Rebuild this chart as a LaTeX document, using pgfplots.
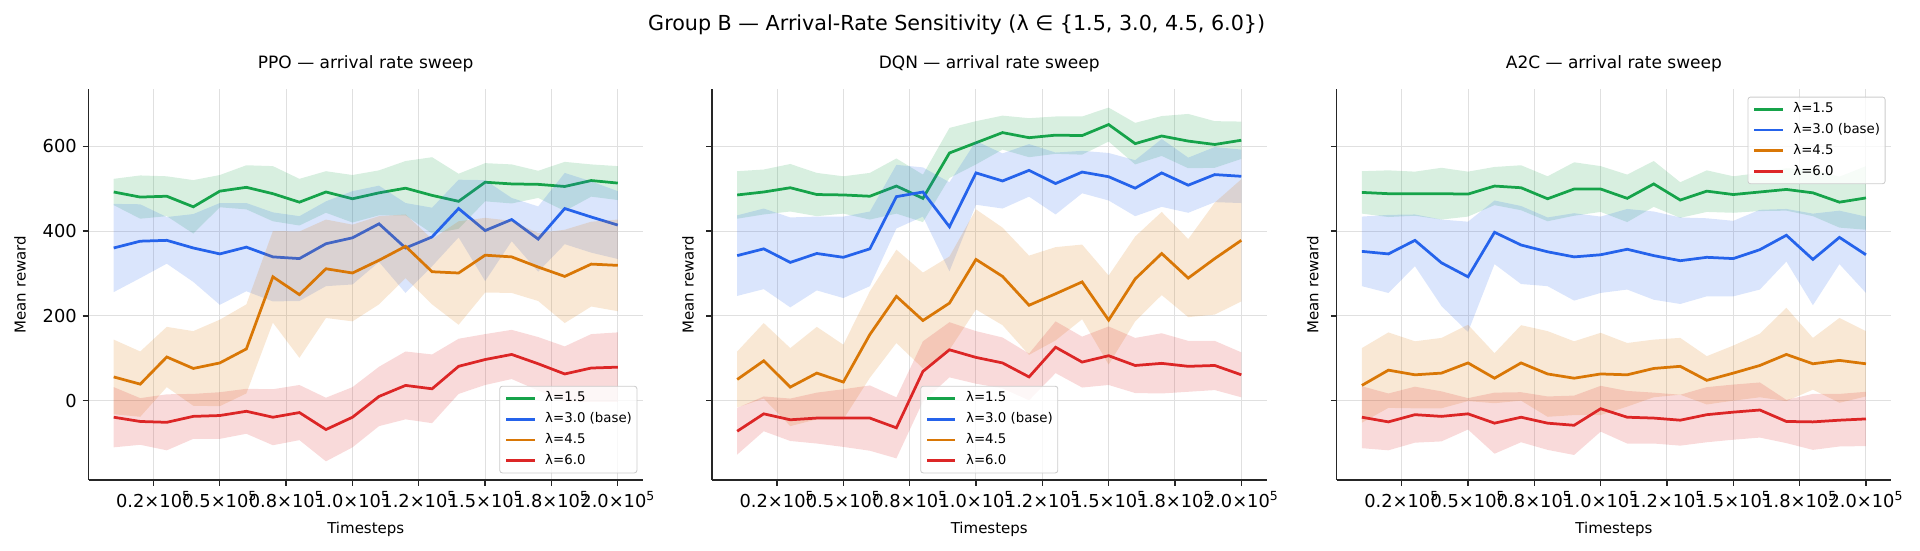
\documentclass[border=0pt]{standalone}
\usepackage{fontspec}
\setmainfont{DejaVu Sans}
\usepackage{pgfplots}
\pgfplotsset{compat=1.18}
\usepackage{pgfplotstable}

\definecolor{cg}{HTML}{16A34A}
\definecolor{cb}{HTML}{2563EB}
\definecolor{co}{HTML}{D97706}
\definecolor{cr}{HTML}{DC2626}

% mean reward per arrival rate: g = 1.5, b = 3.0, o = 4.5, r = 6.0
\pgfplotstableread{
t g b o r
10000 492 360 56 -39
20000 480 376 39 -49
30000 482 378 103 -51
40000 457 360 76 -37
50000 494 346 89 -35
60000 503 362 122 -25
70000 488 339 292 -39
80000 468 335 250 -28
90000 492 370 311 -68
100000 476 384 301 -39
110000 490 417 331 10
120000 501 360 364 36
130000 484 386 304 28
140000 470 453 301 81
150000 515 401 343 97
160000 511 427 339 109
170000 510 381 315 87
180000 505 453 293 63
190000 519 433 322 77
200000 513 414 319 79
}\ppo
% band outlines: upper edge forwards, then lower edge backwards
\pgfplotstableread{
t g b o r
10000 523 464 144 32
20000 531 463 116 6
30000 529 433 174 15
40000 520 440 164 16
50000 532 466 191 20
60000 555 466 227 28
70000 553 444 400 27
80000 523 435 399 37
90000 541 470 427 7
100000 532 494 415 32
110000 543 507 435 80
120000 565 466 439 116
130000 574 455 381 109
140000 535 521 423 146
150000 560 520 431 157
160000 557 478 424 167
170000 542 458 395 150
180000 563 537 403 128
190000 557 517 422 157
200000 553 494 427 161
200000 473 334 211 -3
190000 481 349 222 -3
180000 447 369 183 -2
170000 478 304 235 24
160000 465 376 254 51
150000 470 282 255 37
140000 405 385 179 16
130000 394 317 227 -53
120000 437 254 289 -44
110000 437 327 227 -60
100000 420 274 187 -110
90000 443 270 195 -143
80000 413 235 101 -93
70000 423 234 184 -105
60000 451 258 17 -78
50000 456 226 -13 -90
40000 394 280 -12 -90
30000 435 323 32 -117
20000 429 289 -38 -104
10000 461 256 -32 -110
}\ppoband

\pgfplotstableread{
t g b o r
10000 485 342 50 -72
20000 492 358 94 -31
30000 502 326 32 -45
40000 486 347 65 -41
50000 485 338 44 -41
60000 482 358 156 -41
70000 506 481 246 -64
80000 477 492 189 69
90000 584 410 230 120
100000 608 537 333 102
110000 632 518 293 89
120000 620 543 225 56
130000 626 512 252 126
140000 625 539 280 91
150000 651 528 190 106
160000 606 501 287 83
170000 624 537 347 88
180000 612 508 289 81
190000 604 533 335 83
200000 614 529 378 61
}\dqn
\pgfplotstableread{
t g b o r
10000 541 437 116 -17
20000 545 453 183 10
30000 558 432 124 5
40000 537 434 174 19
50000 529 434 132 27
60000 537 446 258 36
70000 571 556 356 8
80000 533 550 302 140
90000 643 515 340 185
100000 659 612 451 164
110000 672 583 408 149
120000 666 605 342 111
130000 670 585 362 187
140000 670 589 368 151
150000 691 584 295 175
160000 655 567 387 148
170000 671 617 445 159
180000 676 573 381 141
190000 659 598 467 141
200000 658 592 522 114
200000 570 466 234 8
190000 549 468 203 25
180000 548 443 197 21
170000 577 457 249 17
160000 557 435 187 18
150000 611 472 85 37
140000 580 489 192 31
130000 582 439 142 65
120000 574 481 108 1
110000 592 453 178 29
100000 557 462 215 40
90000 525 305 120 55
80000 421 434 76 -2
70000 441 406 136 -136
60000 427 270 54 -118
50000 441 242 -44 -109
40000 435 260 -44 -101
30000 446 220 -60 -95
20000 439 263 5 -72
10000 429 247 -16 -127
}\dqnband

\pgfplotstableread{
t g b o r
10000 491 352 36 -39
20000 488 346 72 -50
30000 488 378 61 -33
40000 488 325 65 -37
50000 487 292 89 -31
60000 506 397 53 -53
70000 502 367 89 -39
80000 476 351 63 -53
90000 499 339 53 -58
100000 499 344 63 -19
110000 477 357 61 -39
120000 511 342 76 -41
130000 473 330 81 -46
140000 494 338 48 -33
150000 486 335 65 -27
160000 492 356 83 -22
170000 498 390 109 -49
180000 490 333 87 -50
190000 468 385 95 -46
200000 478 344 87 -43
}\atc
\pgfplotstableread{
t g b o r
10000 541 434 124 34
20000 543 438 161 17
30000 540 439 140 33
40000 549 427 148 22
50000 540 422 179 6
60000 551 472 112 19
70000 555 459 178 20
80000 529 432 164 10
90000 562 442 140 12
100000 553 434 160 35
110000 533 452 136 23
120000 565 446 144 19
130000 515 432 148 14
140000 543 430 105 32
150000 529 424 130 38
160000 537 450 158 43
170000 548 452 219 2
180000 545 441 148 16
190000 528 448 195 16
200000 553 434 164 21
200000 403 254 10 -107
190000 408 322 -5 -108
180000 435 225 26 -116
170000 448 328 -1 -100
160000 447 262 8 -87
150000 443 246 0 -92
140000 445 246 -9 -98
130000 431 228 14 -106
120000 457 238 8 -101
110000 421 262 -14 -101
100000 445 254 -34 -73
90000 436 236 -34 -128
80000 423 270 -38 -116
70000 449 275 0 -98
60000 461 322 -6 -125
50000 434 162 -1 -68
40000 427 223 -18 -96
30000 436 317 -18 -99
20000 433 254 -17 -117
10000 441 270 -52 -112
}\atcband

\newcommand{\allseries}[2]{% #1 means, #2 band outlines
  \addplot[draw=none, fill=cg, fill opacity=0.17, forget plot] table[x=t, y=g] {#2} -- cycle;
  \addplot[cg, line width=1.65pt] table[x=t, y=g] {#1};
  \addlegendentry{λ=1.5}
  \addplot[draw=none, fill=cb, fill opacity=0.17, forget plot] table[x=t, y=b] {#2} -- cycle;
  \addplot[cb, line width=1.65pt] table[x=t, y=b] {#1};
  \addlegendentry{λ=3.0 (base)}
  \addplot[draw=none, fill=co, fill opacity=0.17, forget plot] table[x=t, y=o] {#2} -- cycle;
  \addplot[co, line width=1.65pt] table[x=t, y=o] {#1};
  \addlegendentry{λ=4.5}
  \addplot[draw=none, fill=cr, fill opacity=0.17, forget plot] table[x=t, y=r] {#2} -- cycle;
  \addplot[cr, line width=1.65pt] table[x=t, y=r] {#1};
  \addlegendentry{λ=6.0}
}

\pgfplotsset{
  panel/.style={
    scale only axis, width=332.7pt, height=234.4pt,
    xmin=500, xmax=209500, ymin=-187, ymax=734,
    axis lines=left, axis line style={-, line width=0.8pt, black!85},
    tick align=outside, major tick length=3.5pt,
    tick style={black!85, line width=0.8pt},
    scaled x ticks=false,
    xtick={25000,50000,75000,100000,125000,150000,175000,200000},
    xticklabels={0.2×10\textsuperscript{5},0.5×10\textsuperscript{5},0.8×10\textsuperscript{5},1.0×10\textsuperscript{5},1.2×10\textsuperscript{5},1.5×10\textsuperscript{5},1.8×10\textsuperscript{5},2.0×10\textsuperscript{5}},
    ytick={0,200,400,600},
    grid=major, major grid style={black!12, line width=0.6pt},
    ticklabel style={font=\fontsize{10.7}{12}\selectfont},
    /pgf/number format/assume math mode=true,
    xlabel={Timesteps}, ylabel={Mean reward},
    label style={font=\fontsize{9}{10.8}\selectfont},
    xlabel style={at={(axis description cs:0.5,-0.1357)}, anchor=base},
    title style={font=\fontsize{10.2}{12}\selectfont, at={(axis description cs:0.5,1.0265)}, anchor=base},
    legend cell align=left,
    legend image code/.code={\draw[##1, line width=1.65pt] (0pt,0pt) -- (17pt,0pt);},
    legend style={draw=black!20, line width=0.5pt, rounded corners=1.5pt,
      fill=white, fill opacity=0.8, draw opacity=1, text opacity=1,
      font=\fontsize{8}{9.6}\selectfont, inner xsep=3pt, inner ysep=3.1pt,
      row sep=4.2pt,
      nodes={inner sep=0pt, text height=6.2pt, text depth=2.1pt},
      /tikz/every odd column/.append style={column sep=5.6pt}},
  }
}

\begin{document}
\begin{tikzpicture}
\path[use as bounding box] (0pt,0pt) rectangle (1152pt,330pt);

\node[font=\fontsize{12.4}{14}\selectfont, anchor=base] at (574pt,311.4pt)
  {Group B — Arrival-Rate Sensitivity (λ ∈ \{1.5, 3.0, 4.5, 6.0\})};

\begin{axis}[panel, at={(53.1pt,42pt)}, anchor=south west,
  title={PPO — arrival rate sweep},
  ylabel style={at={(axis description cs:-0.1233,0.5)}, anchor=center},
  legend style={at={(1,0)}, anchor=south east, xshift=-3.4pt, yshift=4pt}]
\allseries{\ppo}{\ppoband}
\end{axis}

\begin{axis}[panel, at={(427.2pt,42pt)}, anchor=south west,
  title={DQN — arrival rate sweep}, yticklabels={},
  ylabel style={at={(axis description cs:-0.0433,0.5)}, anchor=center},
  legend style={at={(0.5,0)}, anchor=south, yshift=4pt}]
\allseries{\dqn}{\dqnband}
\end{axis}

\begin{axis}[panel, at={(802pt,42pt)}, anchor=south west,
  title={A2C — arrival rate sweep}, yticklabels={},
  ylabel style={at={(axis description cs:-0.0433,0.5)}, anchor=center},
  legend style={at={(1,1)}, anchor=north east, xshift=-3.4pt, yshift=-4.4pt}]
\allseries{\atc}{\atcband}
\end{axis}
\end{tikzpicture}
\end{document}
